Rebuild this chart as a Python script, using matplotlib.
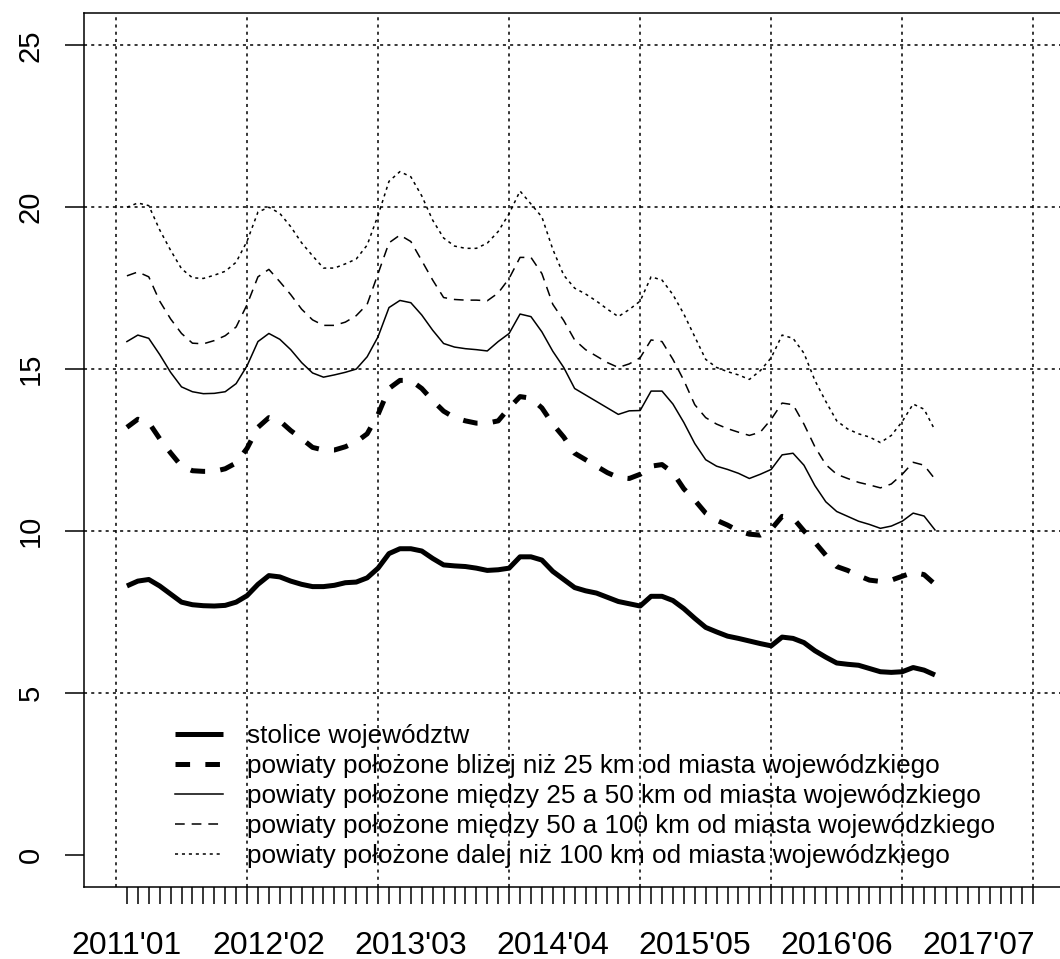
import numpy as np
import matplotlib
matplotlib.use("Agg")
import matplotlib.pyplot as plt

plt.rcParams['font.family'] = ['Liberation Sans', 'DejaVu Sans']
plt.rcParams['lines.scale_dashes'] = False

# monthly values, 2011'01 .. 2017'03
stolice = [8.30, 8.45, 8.50, 8.30, 8.05, 7.80, 7.72, 7.69, 7.68, 7.70, 7.80, 8.00,
           8.35, 8.62, 8.58, 8.45, 8.35, 8.28, 8.28, 8.32, 8.40, 8.42, 8.55, 8.85,
           9.30, 9.45, 9.45, 9.38, 9.15, 8.95, 8.92, 8.90, 8.85, 8.78, 8.80, 8.85,
           9.20, 9.20, 9.10, 8.75, 8.50, 8.25, 8.15, 8.08, 7.95, 7.82, 7.75, 7.68,
           7.98, 7.98, 7.85, 7.60, 7.30, 7.02, 6.88, 6.75, 6.68, 6.60, 6.52, 6.45,
           6.72, 6.68, 6.55, 6.30, 6.10, 5.92, 5.88, 5.85, 5.75, 5.65, 5.63, 5.65,
           5.78, 5.70, 5.55]
do_25 = [13.20, 13.45, 13.35, 12.85, 12.41, 12.00, 11.86, 11.84, 11.84, 11.92, 12.10, 12.55,
         13.20, 13.50, 13.40, 13.10, 12.85, 12.58, 12.50, 12.50, 12.60, 12.75, 13.00, 13.60,
         14.40, 14.65, 14.65, 14.40, 14.03, 13.70, 13.50, 13.40, 13.33, 13.33, 13.40, 13.80,
         14.15, 14.10, 13.80, 13.30, 12.90, 12.40, 12.20, 12.00, 11.80, 11.65, 11.62, 11.75,
         12.00, 12.05, 11.80, 11.30, 10.95, 10.55, 10.33, 10.18, 10.00, 9.90, 9.87, 10.05,
         10.45, 10.40, 10.00, 9.65, 9.25, 8.90, 8.78, 8.62, 8.48, 8.44, 8.48, 8.60,
         8.72, 8.65, 8.35]
od_25_do_50 = [15.85, 16.05, 15.95, 15.45, 14.90, 14.45, 14.30, 14.24, 14.25, 14.30, 14.55, 15.10,
               15.85, 16.10, 15.92, 15.60, 15.20, 14.88, 14.75, 14.82, 14.90, 15.00, 15.38, 16.00,
               16.90, 17.12, 17.05, 16.67, 16.20, 15.79, 15.68, 15.63, 15.60, 15.56, 15.85, 16.10,
               16.70, 16.62, 16.15, 15.55, 15.05, 14.40, 14.20, 14.00, 13.80, 13.60, 13.71, 13.72,
               14.32, 14.32, 13.92, 13.35, 12.70, 12.20, 12.00, 11.90, 11.78, 11.62, 11.75, 11.90,
               12.35, 12.40, 12.03, 11.40, 10.90, 10.60, 10.45, 10.30, 10.20, 10.08, 10.15, 10.30,
               10.55, 10.46, 10.03]
od_50_do_100 = [17.88, 18.00, 17.85, 17.10, 16.55, 16.10, 15.80, 15.78, 15.88, 16.03, 16.30, 16.99,
                17.85, 18.08, 17.70, 17.30, 16.85, 16.52, 16.35, 16.35, 16.45, 16.65, 17.00, 17.95,
                18.90, 19.14, 18.94, 18.35, 17.75, 17.21, 17.15, 17.13, 17.13, 17.11, 17.35, 17.80,
                18.45, 18.45, 17.95, 17.00, 16.50, 15.90, 15.60, 15.40, 15.20, 15.05, 15.16, 15.35,
                15.90, 15.85, 15.30, 14.65, 13.90, 13.50, 13.30, 13.16, 13.05, 12.95, 13.05, 13.45,
                13.95, 13.90, 13.30, 12.60, 12.05, 11.75, 11.62, 11.50, 11.42, 11.33, 11.45, 11.75,
                12.12, 12.03, 11.60]
ponad_100 = [20.00, 20.13, 20.05, 19.30, 18.67, 18.10, 17.82, 17.80, 17.90, 18.02, 18.30, 18.95,
             19.85, 20.00, 19.81, 19.40, 18.90, 18.50, 18.12, 18.12, 18.25, 18.40, 18.83, 19.75,
             20.80, 21.10, 20.94, 20.35, 19.60, 19.05, 18.80, 18.73, 18.73, 18.89, 19.25, 19.80,
             20.50, 20.10, 19.70, 18.70, 17.90, 17.50, 17.32, 17.10, 16.85, 16.62, 16.84, 17.10,
             17.85, 17.75, 17.30, 16.70, 16.00, 15.30, 15.05, 14.92, 14.82, 14.68, 14.95, 15.35,
             16.05, 15.95, 15.49, 14.65, 14.00, 13.40, 13.15, 13.00, 12.90, 12.73, 12.95, 13.38,
             13.92, 13.76, 13.11]

etykiety = ["stolice województw",
            "powiaty położone bliżej niż 25 km od miasta wojewódzkiego",
            "powiaty położone między 25 a 50 km od miasta wojewódzkiego",
            "powiaty położone między 50 a 100 km od miasta wojewódzkiego",
            "powiaty położone dalej niż 100 km od miasta wojewódzkiego"]

x_labels = ["2011'01", "2012'02", "2013'03", "2014'04", "2015'05", "2016'06", "2017'07"]
n_ticks = 84

fig = plt.figure(figsize=(10.6, 9.59), dpi=100)
px = 10.92  # pixels per month
ax = fig.add_axes([84 / 1060, 72 / 959, 89.86 * px / 1060, 874 / 959])
ax.set_xlim(-2.93, 86.93)
ax.set_ylim(-1, 26)

# grid (no line at 0 in the original)
for v in np.arange(0, n_ticks + 1, 12):
    ax.axvline(v, color='black', lw=1.1, dashes=(2.2, 3.0), zorder=1)
for h in np.arange(5, 26, 5):
    ax.axhline(h, color='black', lw=1.1, dashes=(2.2, 3.0), zorder=1)

x = np.arange(1, len(stolice) + 1)
ax.plot(x, stolice, color='black', lw=3.6, solid_capstyle='butt', label=etykiety[0])
ax.plot(x, do_25, color='black', lw=3.6, dashes=(10.5, 11), dash_capstyle='butt', label=etykiety[1])
ax.plot(x, od_25_do_50, color='black', lw=1.1, label=etykiety[2])
ax.plot(x, od_50_do_100, color='black', lw=1.1, dashes=(7, 5), label=etykiety[3])
ax.plot(x, ponad_100, color='black', lw=1.1, dashes=(2.2, 2.8), label=etykiety[4])

for s in ax.spines.values():
    s.set_linewidth(1.1)

ticks = np.arange(1, n_ticks + 1)
labels = [''] * n_ticks
for i, lab in enumerate(x_labels):
    labels[i * 13] = lab
ax.set_xticks(ticks)
ax.set_xticklabels(labels, fontsize=23)
ax.tick_params(axis='x', length=12.5, width=1.1, pad=19)

ax.set_yticks(np.arange(0, 26, 5))
ax.set_yticklabels([str(v) for v in range(0, 26, 5)], fontsize=21, rotation=90, va='center')
ax.tick_params(axis='y', length=13.5, width=1.1, pad=15)

ax.legend(loc='upper left', bbox_to_anchor=(175 / 1060, (959 - 724) / 959),
          bbox_transform=fig.transFigure, frameon=False, fontsize=18.8,
          handlelength=1.85, handletextpad=0.9, labelspacing=0.23,
          borderpad=0, borderaxespad=0)

fig.savefig('out.png', dpi=100)
